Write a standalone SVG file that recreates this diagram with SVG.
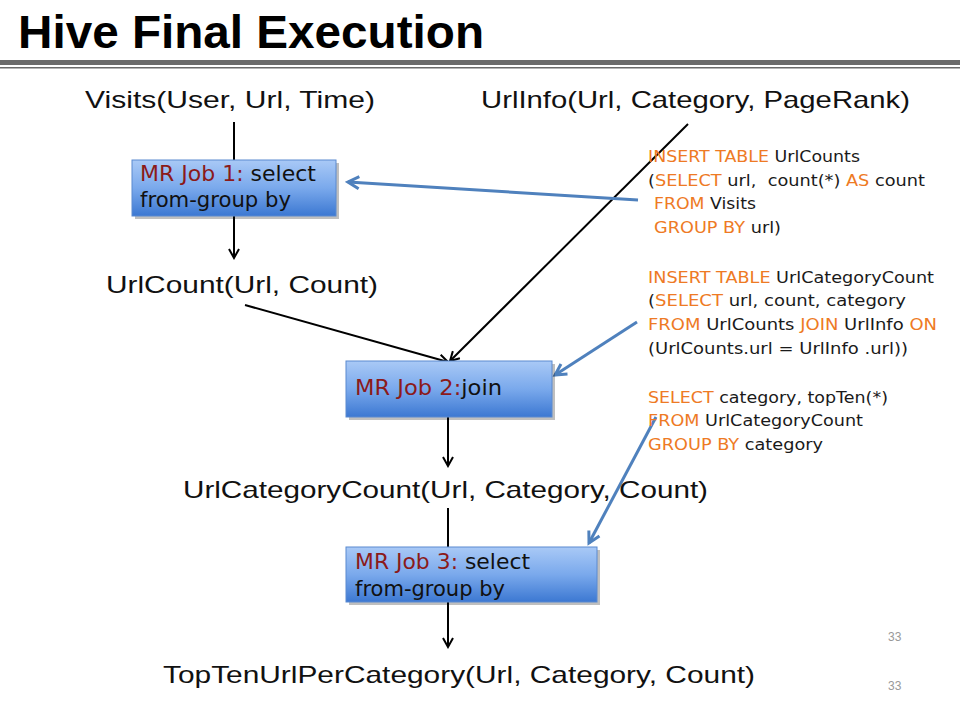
<svg xmlns="http://www.w3.org/2000/svg" width="960" height="720" viewBox="0 0 960 720">
<defs>
<linearGradient id="boxg" x1="0" y1="0" x2="0" y2="1">
<stop offset="0" stop-color="#a9c9f6"/>
<stop offset="0.5" stop-color="#7aa9ec"/>
<stop offset="1" stop-color="#3c78d2"/>
</linearGradient>
<marker id="ab" markerWidth="12" markerHeight="12" refX="10" refY="6" orient="auto" markerUnits="userSpaceOnUse">
<path d="M1,1 L10,6 L1,11" fill="none" stroke="#000" stroke-width="2"/>
</marker>
<marker id="au" markerWidth="16" markerHeight="16" refX="13" refY="8" orient="auto" markerUnits="userSpaceOnUse">
<path d="M2,2 L13,8 L2,14" fill="none" stroke="#4f81bd" stroke-width="3"/>
</marker>
</defs>
<style>
.title{font-family:"Liberation Sans Narrow","Liberation Sans",Arial,sans-serif;font-weight:bold;font-size:46px;fill:#000}
.lbl{font-family:"Liberation Sans",Arial,sans-serif;font-size:24px;fill:#111}
.box{fill:url(#boxg);stroke:#5a8ad0;stroke-width:1}
.shadow{fill:#000;opacity:0.25}
.bt{font-family:"DejaVu Sans Condensed","DejaVu Sans",sans-serif;font-size:21px;fill:#111}
.red{fill:#8b1a1a}
.sql{font-family:"DejaVu Sans",sans-serif;font-size:15.5px;fill:#1a1a1a}
.o{fill:#ee7a24}
.blk{stroke:#000;stroke-width:2;fill:none}
.blu{stroke:#4f81bd;stroke-width:3;fill:none}
.pg{font-family:"Liberation Sans",Arial,sans-serif;font-size:12px;fill:#999}
</style>
<rect width="960" height="720" fill="#fff"/>
<text class="title" x="18" y="48" textLength="466" lengthAdjust="spacingAndGlyphs">Hive Final Execution</text>
<rect x="0" y="60" width="960" height="5" fill="#6a6a6a"/>
<rect x="0" y="67" width="960" height="1.5" fill="#6a6a6a"/>

<g id="connectors">
<line class="blk" x1="234" y1="122" x2="234" y2="258" marker-end="url(#ab)"/>
<line class="blk" x1="245" y1="305" x2="448" y2="362" marker-end="url(#ab)"/>
<line class="blk" x1="688" y1="124" x2="450" y2="361" marker-end="url(#ab)"/>
<line class="blk" x1="448" y1="417" x2="448" y2="466" marker-end="url(#ab)"/>
<line class="blk" x1="448" y1="508" x2="448" y2="647" marker-end="url(#ab)"/>
<line class="blu" x1="638" y1="200" x2="348" y2="182" marker-end="url(#au)"/>
<line class="blu" x1="637" y1="322" x2="555" y2="375" marker-end="url(#au)"/>
<line class="blu" x1="656" y1="417" x2="589" y2="543" marker-end="url(#au)"/>
</g>

<g id="visits"><text class="lbl" x="85" y="108" textLength="290" lengthAdjust="spacingAndGlyphs">Visits(User, Url, Time)</text></g>
<g id="urlinfo"><text class="lbl" x="481" y="108" textLength="429" lengthAdjust="spacingAndGlyphs">UrlInfo(Url, Category, PageRank)</text></g>
<g id="urlcount"><text class="lbl" x="106" y="293" textLength="272" lengthAdjust="spacingAndGlyphs">UrlCount(Url, Count)</text></g>
<g id="urlcategorycount"><text class="lbl" x="183" y="498" textLength="525" lengthAdjust="spacingAndGlyphs">UrlCategoryCount(Url, Category, Count)</text></g>
<g id="toptenurl"><text class="lbl" x="163" y="683" textLength="592" lengthAdjust="spacingAndGlyphs">TopTenUrlPerCategory(Url, Category, Count)</text></g>

<g id="job1">
<rect class="shadow" x="135" y="163" width="204" height="56"/>
<rect class="box" x="132" y="160" width="204" height="56"/>
<text class="bt" x="140" y="181" textLength="176" lengthAdjust="spacingAndGlyphs"><tspan class="red">MR Job 1: </tspan>select</text>
<text class="bt" x="140" y="207" textLength="151" lengthAdjust="spacingAndGlyphs">from-group by</text>
</g>
<g id="job2">
<rect class="shadow" x="349" y="364" width="206" height="56"/>
<rect class="box" x="346" y="361" width="206" height="56"/>
<text class="bt" x="355" y="395" textLength="147" lengthAdjust="spacingAndGlyphs"><tspan class="red">MR Job 2:</tspan>join</text>
</g>
<g id="job3">
<rect class="shadow" x="349" y="550" width="251" height="55"/>
<rect class="box" x="346" y="547" width="251" height="55"/>
<text class="bt" x="355" y="569" textLength="175" lengthAdjust="spacingAndGlyphs"><tspan class="red">MR Job 3: </tspan>select</text>
<text class="bt" x="355" y="596" textLength="150" lengthAdjust="spacingAndGlyphs">from-group by</text>
</g>

<g id="sql">
<text class="sql" x="648" y="162" textLength="212" lengthAdjust="spacingAndGlyphs"><tspan class="o">INSERT TABLE</tspan> UrlCounts</text>
<text class="sql" x="648" y="186" textLength="277" lengthAdjust="spacingAndGlyphs" xml:space="preserve">(<tspan class="o">SELECT</tspan> url,  count(*) <tspan class="o">AS</tspan> count</text>
<text class="sql" x="654" y="209" textLength="102" lengthAdjust="spacingAndGlyphs"><tspan class="o">FROM</tspan> Visits</text>
<text class="sql" x="654" y="233" textLength="127" lengthAdjust="spacingAndGlyphs"><tspan class="o">GROUP BY</tspan> url)</text>
<text class="sql" x="648" y="283" textLength="286" lengthAdjust="spacingAndGlyphs"><tspan class="o">INSERT TABLE</tspan> UrlCategoryCount</text>
<text class="sql" x="648" y="306" textLength="258" lengthAdjust="spacingAndGlyphs">(<tspan class="o">SELECT</tspan> url, count, category</text>
<text class="sql" x="648" y="330" textLength="289" lengthAdjust="spacingAndGlyphs"><tspan class="o">FROM</tspan> UrlCounts <tspan class="o">JOIN</tspan> UrlInfo <tspan class="o">ON</tspan></text>
<text class="sql" x="648" y="354" textLength="260" lengthAdjust="spacingAndGlyphs">(UrlCounts.url = UrlInfo .url))</text>
<text class="sql" x="648" y="403" textLength="240" lengthAdjust="spacingAndGlyphs"><tspan class="o">SELECT</tspan> category, topTen(*)</text>
<text class="sql" x="648" y="426" textLength="215" lengthAdjust="spacingAndGlyphs"><tspan class="o">FROM</tspan> UrlCategoryCount</text>
<text class="sql" x="648" y="450" textLength="175" lengthAdjust="spacingAndGlyphs"><tspan class="o">GROUP BY</tspan> category</text>
</g>

<text class="pg" x="888" y="641">33</text>
<text class="pg" x="888" y="690">33</text>
</svg>
